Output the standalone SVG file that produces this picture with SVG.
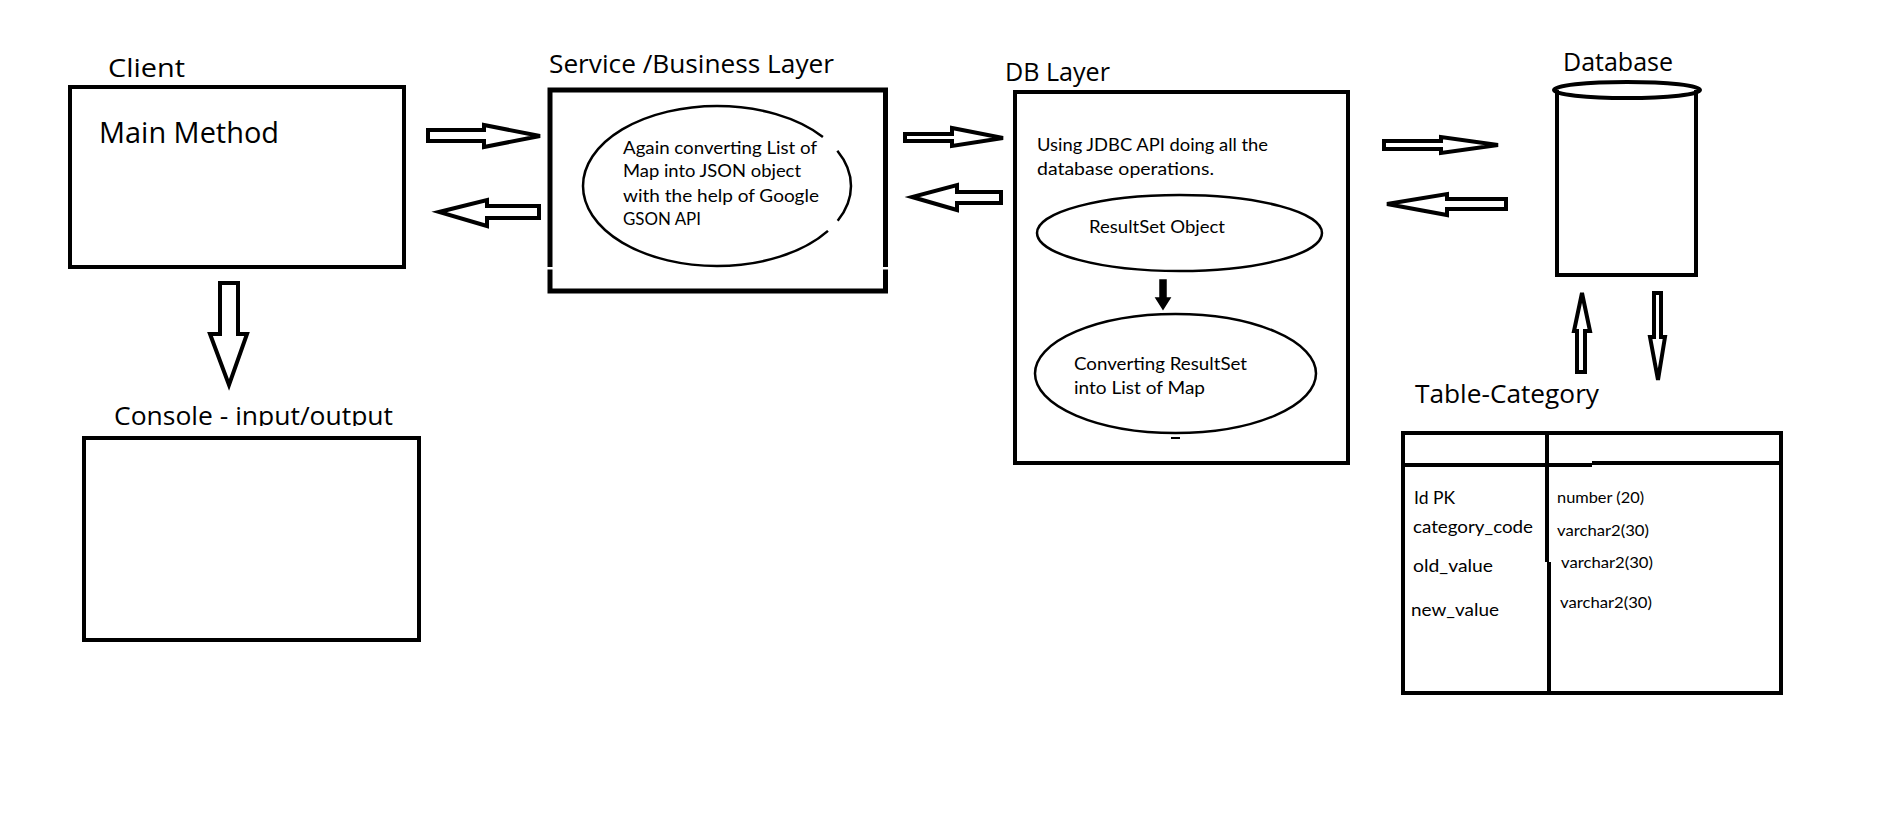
<svg xmlns="http://www.w3.org/2000/svg" width="1892" height="827" viewBox="0 0 1892 827">
<defs>
<style>
.box{fill:none;stroke:#000;stroke-width:4}
.thin{fill:none;stroke:#000;stroke-width:2.5}
.arr{fill:#fff;stroke:#000;stroke-width:4;stroke-linejoin:miter}
.h{font-family:"Open Sans","Noto Sans",sans-serif;font-size:25px;fill:#000}
.s{font-family:Lato,"Liberation Sans",sans-serif;font-size:18px;fill:#000}
.t{font-family:Lato,"Liberation Sans",sans-serif;font-size:16px;fill:#000}
</style>
<clipPath id="consoleClip"><rect x="0" y="380" width="600" height="46"/></clipPath>
</defs>
<rect width="1892" height="827" fill="#fff"/>

<g id="client">
<text class="h" x="108" y="77" textLength="77" lengthAdjust="spacingAndGlyphs">Client</text>
<rect class="box" x="70" y="87" width="334" height="180"/>
<text class="h" x="99" y="143" style="font-size:29px" textLength="180" lengthAdjust="spacingAndGlyphs">Main Method</text>
</g>

<g id="console">
<text class="h" x="114" y="425" clip-path="url(#consoleClip)" textLength="279" lengthAdjust="spacingAndGlyphs">Console - input/output</text>
<rect class="box" x="84" y="438" width="335" height="202"/>
</g>

<g id="service">
<text class="h" x="549" y="73" textLength="285" lengthAdjust="spacingAndGlyphs">Service /Business Layer</text>
<path class="box" style="stroke-width:5" d="M550,267 V90 H885.5 V267 M885.5,269.5 V291 H550 V269.5"/>
<ellipse class="thin" cx="717" cy="186" rx="134" ry="80" stroke-dasharray="38 14 572 20 80"/>
<text class="s" x="623" y="154" textLength="194" lengthAdjust="spacingAndGlyphs">Again converting List of</text>
<text class="s" x="623" y="177" textLength="178" lengthAdjust="spacingAndGlyphs">Map into JSON object</text>
<text class="s" x="623" y="202" textLength="196" lengthAdjust="spacingAndGlyphs">with the help of Google</text>
<text class="s" x="623" y="225" textLength="78" lengthAdjust="spacingAndGlyphs">GSON API</text>
</g>

<g id="dblayer">
<text class="h" x="1005" y="81" textLength="105" lengthAdjust="spacingAndGlyphs">DB Layer</text>
<rect class="box" x="1015" y="92" width="333" height="371"/>
<text class="s" x="1037" y="151" textLength="231" lengthAdjust="spacingAndGlyphs">Using JDBC API doing all the</text>
<text class="s" x="1037" y="175" textLength="177" lengthAdjust="spacingAndGlyphs">database operations.</text>
<ellipse class="thin" cx="1179.5" cy="233" rx="142.5" ry="38"/>
<text class="s" x="1089" y="233" textLength="136" lengthAdjust="spacingAndGlyphs">ResultSet Object</text>
<ellipse class="thin" cx="1175.5" cy="373.5" rx="140.5" ry="59.5"/>
<text class="s" x="1074" y="370" textLength="173" lengthAdjust="spacingAndGlyphs">Converting ResultSet</text>
<text class="s" x="1074" y="394" textLength="131" lengthAdjust="spacingAndGlyphs">into List of Map</text>
<line x1="1171" y1="438" x2="1180" y2="438" stroke="#000" stroke-width="2"/>
</g>

<g id="database">
<text class="h" x="1563" y="71" textLength="110" lengthAdjust="spacingAndGlyphs">Database</text>
<path class="box" d="M1557,90 V275 H1696 V90"/>
<ellipse class="box" cx="1627" cy="90" rx="73" ry="8" fill="#fff"/>
</g>

<g id="table">
<text class="h" x="1415" y="403" textLength="184" lengthAdjust="spacingAndGlyphs">Table-Category</text>
<rect class="box" x="1403" y="433" width="378" height="260"/>
<line class="box" x1="1403" y1="465" x2="1592" y2="465"/>
<line class="box" x1="1592" y1="463" x2="1781" y2="463"/>
<line class="box" x1="1547" y1="433" x2="1547" y2="562"/>
<line class="box" x1="1549" y1="562" x2="1549" y2="693"/>
<text class="s" x="1414" y="504" textLength="41" lengthAdjust="spacingAndGlyphs">Id PK</text>
<text class="s" x="1413" y="533" textLength="120" lengthAdjust="spacingAndGlyphs">category_code</text>
<text class="s" x="1413" y="572" textLength="80" lengthAdjust="spacingAndGlyphs">old_value</text>
<text class="s" x="1411" y="616" textLength="88" lengthAdjust="spacingAndGlyphs">new_value</text>
<text class="t" x="1557" y="503" textLength="87" lengthAdjust="spacingAndGlyphs">number (20)</text>
<text class="t" x="1557" y="536" textLength="92" lengthAdjust="spacingAndGlyphs">varchar2(30)</text>
<text class="t" x="1561" y="568" textLength="92" lengthAdjust="spacingAndGlyphs">varchar2(30)</text>
<text class="t" x="1560" y="608" textLength="92" lengthAdjust="spacingAndGlyphs">varchar2(30)</text>
</g>

<g id="connectors">
<polygon class="arr" points="428,130 484,130 484,125 540,136 484,147 484,141 428,141"/>
<polygon class="arr" points="539,206 487,206 487,200 439,212 487,226 487,218 539,218"/>
<polygon class="arr" points="905,134 952,134 952,128 1003,138 952,146 952,141 905,141"/>
<polygon class="arr" points="1001,192 957,192 957,185 912,197 957,210 957,203 1001,203"/>
<polygon class="arr" points="1384,141 1441,141 1441,137 1498,145 1441,153 1441,149 1384,149"/>
<polygon class="arr" points="1506,199 1447,199 1447,194 1387,204 1447,215 1447,209 1506,209"/>
<polygon class="arr" points="220,283 238,283 238,334 247,334 229,385 210,334 220,334"/>
<polygon class="arr" points="1577,372 1577,331 1574,331 1582,293 1590,331 1585,331 1585,372"/>
<polygon class="arr" points="1654,293 1661,293 1661,337 1665,337 1658,380 1650,337 1654,337"/>
<polygon points="1160,280 1166,280 1166,298 1170,298 1163,309 1156,298 1160,298" fill="#000" stroke="#000" stroke-width="1.5"/>
</g>
</svg>
